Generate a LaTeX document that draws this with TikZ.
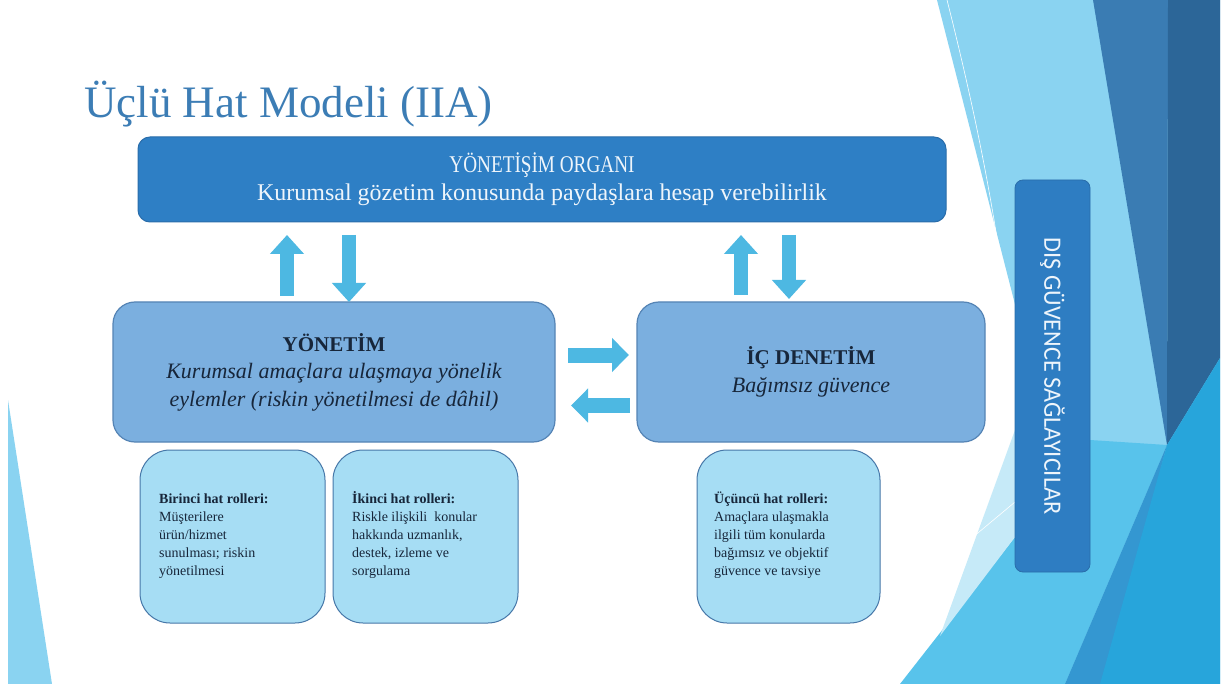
\documentclass[tikz,border=0pt]{standalone}
\usepackage{fontspec}
\setmainfont{Liberation Serif}
\newfontfamily\carlito{Carlito}
\usetikzlibrary{arrows.meta}
\definecolor{titleblue}{HTML}{3C7DB5}
\definecolor{govfill}{HTML}{2E7FC5}
\definecolor{govline}{HTML}{2A6DAA}
\definecolor{govtext}{HTML}{EEF5FB}
\definecolor{midfill}{HTML}{7BAFDF}
\definecolor{midline}{HTML}{5584B5}
\definecolor{lowfill}{HTML}{A6DDF4}
\definecolor{lowline}{HTML}{4677A8}
\definecolor{darktext}{HTML}{17263A}
\definecolor{arrowfill}{HTML}{4DB8E2}
\definecolor{disfill}{HTML}{2E7DC2}
\definecolor{decLight}{HTML}{8AD3F1}
\definecolor{decPale}{HTML}{C6EAF8}
\definecolor{decCyan}{HTML}{58C3EB}
\definecolor{decSteel}{HTML}{3A7CB3}
\definecolor{decDark}{HTML}{2C6698}
\definecolor{decMid}{HTML}{3497D1}
\definecolor{decBright}{HTML}{27A5DB}
\begin{document}
\begin{tikzpicture}[x=1pt,y=-1pt,
  govbox/.style={draw=govline, line width=1pt, fill=govfill, rounded corners=12pt, text=govtext, align=center, font=\fontsize{24}{28}\selectfont},
  midbox/.style={draw=midline, line width=1.2pt, fill=midfill, rounded corners=22pt, text=darktext, align=center, font=\fontsize{22}{27.5}\selectfont},
  lowbox/.style={draw=lowline, line width=1pt, fill=lowfill, rounded corners=30pt, minimum width=185pt, minimum height=173pt},
  lowtext/.style={anchor=north west, inner sep=0pt, align=left, text=darktext, font=\fontsize{14}{18}\selectfont},
  disbox/.style={draw=govline, line width=0.8pt, fill=disfill, rounded corners=8pt, minimum width=75pt, minimum height=392pt},
  vbarrow/.style={draw=arrowfill, line width=14pt, -{Triangle[width=33pt,length=19pt]}},
  hbarrow/.style={draw=arrowfill, line width=15pt, -{Triangle[width=33pt,length=17pt]}}
]
\useasboundingbox (0,0) rectangle (1228,684);
\fill[white] (0,0) rectangle (1228,684);
% ---- background decoration ----
\fill[decLight] (937,0) -- (1220,0) -- (1220,684) -- (1040,684) -- (1060,480) -- cycle;
\fill[decSteel] (1093,0) -- (1168,0) -- (1167,445) -- cycle;
\fill[decDark] (1168,0) -- (1220,0) -- (1220,358) -- (1167,445) -- cycle;
\fill[decCyan] (900,684) -- (1015,537) -- (1090,440) -- (1167,445) -- (1065,684) -- cycle;
\fill[decMid] (1167,445) -- (1105,684) -- (1065,684) -- cycle;
\fill[decBright] (1167,445) -- (1220,358) -- (1220,684) -- (1100,684) -- cycle;
\fill[decPale] (1015,430) -- (1015,537) -- (940,636) -- cycle;
\draw[white, line width=0.6pt] (900,598) -- (1015,502);
\draw[white, line width=0.6pt] (947,0) .. controls (985,150) and (1003,260) .. (1012,360);
\fill[decLight] (8,400) -- (8,684) -- (52,684) -- cycle;
% ---- title ----
\node[anchor=base west, inner sep=0pt, text=titleblue, font=\fontsize{45}{50}\selectfont] (title) at (84,118) {Üçlü Hat Modeli (IIA)};
% ---- boxes ----
\node[govbox, minimum width=808pt, minimum height=85pt] (gov) at (542,179.5)
  {\scalebox{0.8}[1]{YÖNETİŞİM ORGANI}\\Kurumsal gözetim konusunda paydaşlara hesap verebilirlik};
\node[midbox, minimum width=442pt, minimum height=140pt] (yon) at (334,372)
  {{\fontsize{21}{27.5}\selectfont\bfseries YÖNETİM}\\\itshape Kurumsal amaçlara ulaşmaya yönelik\\\itshape eylemler (riskin yönetilmesi de dâhil)};
\node[midbox, minimum width=348pt, minimum height=140pt] (icd) at (811,372)
  {{\fontsize{21}{25}\selectfont\bfseries İÇ DENETİM}\\\itshape Bağımsız güvence};
\node[lowbox] (b1) at (232.5,536.5) {};
\node[lowbox] (b2) at (425.5,536.5) {};
\node[lowbox, minimum width=183pt] (b3) at (788.5,536.5) {};
\node[lowtext] (b1t) at (159,490.4) {\strut\textbf{Birinci hat rolleri:}\\Müşterilere\\ürün/hizmet\\sunulması; riskin\\yönetilmesi};
\node[lowtext] (b2t) at (352,490.4) {\strut\textbf{İkinci hat rolleri:}\\Riskle ilişkili\ \ konular\\hakkında uzmanlık,\\destek, izleme ve\\sorgulama};
\node[lowtext] (b3t) at (714,490.4) {\strut\textbf{Üçüncü hat rolleri:}\\Amaçlara ulaşmakla\\ilgili tüm konularda\\bağımsız ve objektif\\güvence ve tavsiye};
\node[disbox] (dis) at (1052.5,376) {};
\node[rotate=-90, text=govtext, font=\carlito\fontsize{25}{28}\selectfont] (dist) at (dis.center) {\scalebox{0.97}[1]{DIŞ GÜVENCE SAĞLAYICILAR}};
% ---- arrows ----
\coordinate (a1s) at (287,296); \coordinate (a1e) at (287,235);
\coordinate (a2s) at (349,235); \coordinate (a2e) at (349,302);
\coordinate (a3s) at (741,295); \coordinate (a3e) at (741,235);
\coordinate (a4s) at (789,235); \coordinate (a4e) at (789,299);
\coordinate (h1s) at (568,355); \coordinate (h1e) at (629,355);
\coordinate (h2s) at (630,405.5); \coordinate (h2e) at (571,405.5);
\draw[vbarrow] (a1s) -- (a1e);
\draw[vbarrow] (a2s) -- (a2e);
\draw[vbarrow] (a3s) -- (a3e);
\draw[vbarrow] (a4s) -- (a4e);
\draw[hbarrow] (h1s) -- (h1e);
\draw[hbarrow] (h2s) -- (h2e);
\end{tikzpicture}
\end{document}
